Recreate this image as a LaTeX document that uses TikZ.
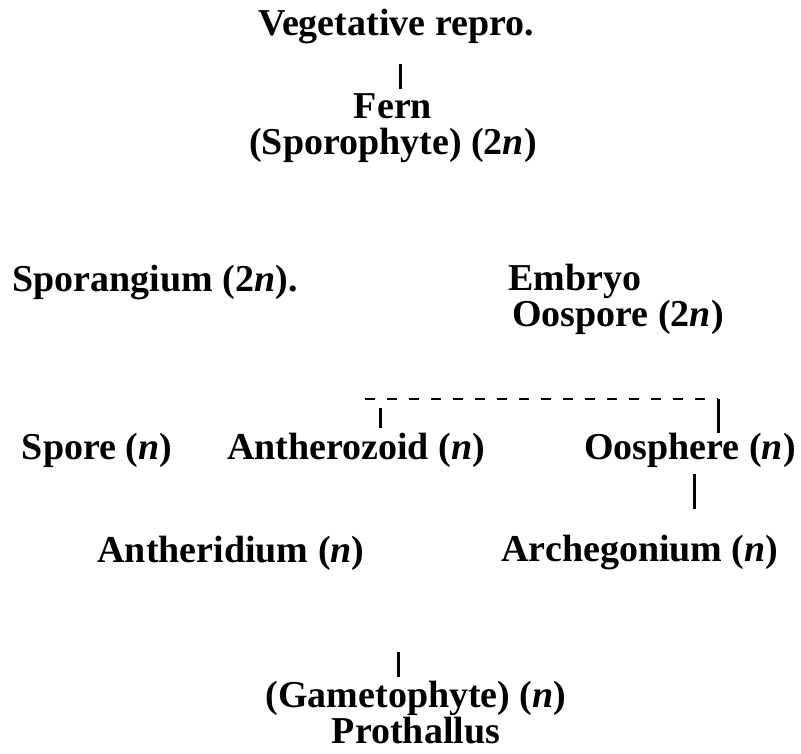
\documentclass[tikz,border=0pt]{standalone}
\usepackage{fontspec}
\setmainfont{Liberation Serif}
\usepackage{tikz}
\usetikzlibrary{positioning,calc}

\newcommand{\nn}{\textit{n}}

\begin{document}
\begin{tikzpicture}[
  x=0.5pt, y=-0.5pt,
  term/.style={inner sep=0pt, align=center,
               font=\fontsize{19}{18}\selectfont\bfseries},
  link/.style={line width=1.5pt},
  fuse/.style={line width=1.4pt, dashed, dash pattern=on 5pt off 6pt}
]
\useasboundingbox (0,0) rectangle (801,753);

% sporophyte generation
\node[term] (veg)    at (396,27)  {Vegetative repro.};
\node[term] (fern)   at (393,128) {Fern\\(Sporophyte) (2\nn)};
\node[term] (sporg)  at (155,283) {Sporangium (2\nn).};
\node[term, anchor=west, align=left] (embryo) at (508,299)
  {Embryo\\\hspace*{0.1em}Oospore (2\nn)};

% spores and gametes
\node[term] (spore)  at (97,450)  {Spore (\nn)};
\node[term] (anthz)  at (356,450) {Antherozoid (\nn)};
\node[term] (oosph)  at (690,450) {Oosphere (\nn)};

\node[term] (anthd)  at (231,553) {Antheridium (\nn)};
\node[term] (arch)   at (640,553) {Archegonium (\nn)};

% gametophyte generation
\node[term] (proth)  at (416,713) {(Gametophyte) (\nn)\\Prothallus};

\coordinate (vt) at (400,64);
\coordinate (jl) at (365,399);
\coordinate (jr) at (718,399);
\coordinate (ja) at (380,428);
\coordinate (jo) at (718,433);
\coordinate (ot) at (694,474);
\coordinate (gt) at (398,652);

\draw[link] (vt) -- ($(vt |- fern.north)+(0,-4)$);
\draw[fuse] (jl) -- (jr);
\draw[link] ($(ja)+(0,-20)$) -- (ja);
\draw[link] (jr) -- (jo);
\draw[link] (ot) -- ($(ot |- arch.north)+(0,-26)$);
\draw[link] (gt) -- ($(gt |- proth.north)+(0,-4)$);
\end{tikzpicture}
\end{document}
